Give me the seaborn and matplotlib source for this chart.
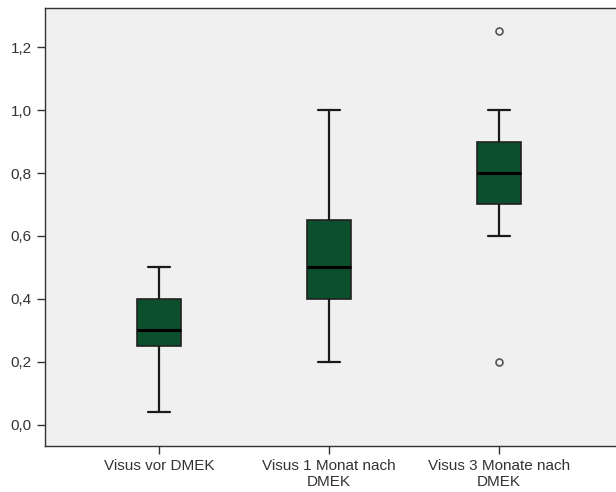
import pandas as pd
import matplotlib
matplotlib.use('Agg')
import matplotlib.pyplot as plt
import seaborn as sns

groups = ['Visus vor DMEK', 'Visus 1 Monat nach\nDMEK', 'Visus 3 Monate nach\nDMEK']
visus_vor = [0.04, 0.20, 0.25, 0.30, 0.30, 0.35, 0.40, 0.45, 0.50]
visus_1m = [0.20, 0.30, 0.40, 0.45, 0.50, 0.60, 0.65, 0.80, 1.00]
visus_3m = [0.20, 0.60, 0.70, 0.70, 0.70, 0.80, 0.80, 0.80, 0.90, 0.90, 0.90, 1.00, 1.25]
yticks = [0.0, 0.2, 0.4, 0.6, 0.8, 1.0, 1.2]

rows = []
for g, vals in zip(groups, [visus_vor, visus_1m, visus_3m]):
    for v in vals:
        rows.append({'gruppe': g, 'visus': v})
df = pd.DataFrame(rows)

sns.set_style('white')
plt.rcParams['font.family'] = ['Liberation Sans', 'DejaVu Sans']

fig = plt.figure(figsize=(6.16, 4.92), dpi=100)
ax = fig.add_axes([0.073, 0.0935, 0.927, 0.8902])
ax.set_facecolor('#f0f0f0')

sns.boxplot(data=df, x='gruppe', y='visus', order=groups, ax=ax, width=0.26,
            color='#0c4f2c', saturation=1, whis=1.5,
            boxprops=dict(facecolor='#0c4f2c', edgecolor='#222222', linewidth=1.2),
            whiskerprops=dict(color='#1a1a1a', linewidth=1.6),
            capprops=dict(color='#1a1a1a', linewidth=1.6),
            medianprops=dict(color='black', linewidth=2.2),
            flierprops=dict(marker='o', markerfacecolor='none', markeredgecolor='#555555',
                            markersize=5, markeredgewidth=1.2))

ax.set_xlim(-0.67, 2.69)
ax.set_ylim(-0.067, 1.324)
ax.set_yticks(yticks)
ax.set_yticklabels([f'{t:.1f}'.replace('.', ',') for t in yticks])
ax.set_xlabel('')
ax.set_ylabel('')
ax.tick_params(axis='both', direction='out', length=6, width=1, color='#333333',
               labelcolor='#333333', labelsize=11, left=True, bottom=True)
for lab in ax.get_xticklabels():
    lab.set_multialignment('center')
for s in ['left', 'bottom', 'top']:
    ax.spines[s].set_color('#333333')
    ax.spines[s].set_linewidth(1)
ax.spines['right'].set_visible(False)

fig.savefig('out.png', dpi=100)
